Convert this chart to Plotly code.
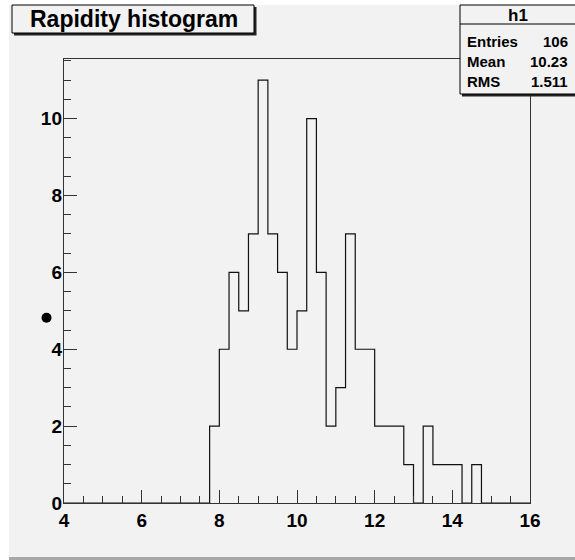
import plotly.graph_objects as go

# ---- data ----
bin_low = 4.0
bin_width = 0.25
counts = [0, 0, 0, 0, 0, 0, 0, 0,      # 4.0 - 6.0
          0, 0, 0, 0, 0, 0, 0, 2,      # 6.0 - 8.0
          4, 6, 5, 7, 11, 7, 6, 4,     # 8.0 - 10.0
          5, 10, 6, 2, 3, 7, 4, 4,     # 10.0 - 12.0
          2, 2, 2, 1, 0, 2, 1, 1,      # 12.0 - 14.0
          1, 0, 1, 0, 0, 0, 0, 0]      # 14.0 - 16.0
marker_x = [3.55]
marker_y = [4.82]
x_ticks = [4, 6, 8, 10, 12, 14, 16]
y_ticks = [0, 2, 4, 6, 8, 10]
title_text = "Rapidity histogram"
stats_name = "h1"
stats_labels = ["Entries", "Mean", "RMS"]
stats_values = ["106", "10.23", "1.511"]

edges = [bin_low + i * bin_width for i in range(len(counts) + 1)]
step_x = edges
step_y = counts + [counts[-1]]

W, H = 575, 560
# frame of the histogram pad, in pixels
FL, FR, FT, FB = 64, 530, 59, 503
XMIN, XMAX = 4.0, 16.0
YMIN, YMAX = 0.0, 11.55

def px(X):
    return X / W

def py(Y):
    return (H - Y) / H

# full-figure overlay axes with the same linear scale as the frame axes
xs = (XMAX - XMIN) / (FR - FL)
ys = (YMAX - YMIN) / (FB - FT)
x2_range = [XMIN - FL * xs, XMAX + (W - FR) * xs]
y2_range = [YMIN - (H - FB) * ys, YMAX + FT * ys]

FONT = "Liberation Sans, Arial, sans-serif"
BG = "#f2f2f2"

fig = go.Figure()
fig.add_trace(go.Scatter(x=step_x, y=step_y, mode="lines", line_shape="hv",
                         line=dict(color="#111111", width=1.2), hoverinfo="skip",
                         showlegend=False, xaxis="x", yaxis="y"))
fig.add_trace(go.Scatter(x=marker_x, y=marker_y, mode="markers",
                         marker=dict(color="black", size=10), hoverinfo="skip",
                         showlegend=False, xaxis="x2", yaxis="y2"))

shapes = []
# canvas gray area and bottom border
shapes.append(dict(type="rect", xref="paper", yref="paper", layer="below",
                   x0=px(9), x1=px(575), y0=py(557), y1=py(5),
                   fillcolor=BG, line=dict(width=0)))
shapes.append(dict(type="rect", xref="paper", yref="paper", layer="below",
                   x0=px(9), x1=px(575), y0=py(560), y1=py(557),
                   fillcolor="#a8a8a8", line=dict(width=0)))
# title box with shadow
shapes.append(dict(type="rect", xref="paper", yref="paper", layer="above",
                   x0=px(14), x1=px(256.5), y0=py(35.5), y1=py(7),
                   fillcolor="#222222", line=dict(width=0)))
shapes.append(dict(type="rect", xref="paper", yref="paper", layer="above",
                   x0=px(12), x1=px(254), y0=py(33), y1=py(5),
                   fillcolor=BG, line=dict(color="black", width=1)))
# stats box with shadow
shapes.append(dict(type="rect", xref="paper", yref="paper", layer="above",
                   x0=px(462), x1=px(578), y0=py(96.5), y1=py(7),
                   fillcolor="#222222", line=dict(width=0)))
shapes.append(dict(type="rect", xref="paper", yref="paper", layer="above",
                   x0=px(460), x1=px(578), y0=py(94), y1=py(5),
                   fillcolor=BG, line=dict(color="black", width=1)))
shapes.append(dict(type="line", xref="paper", yref="paper", layer="above",
                   x0=px(460), x1=px(578), y0=py(24), y1=py(24),
                   line=dict(color="black", width=1)))

annotations = []
annotations.append(dict(xref="paper", yref="paper", x=px(134), y=py(19.5),
                        text="<b>%s</b>" % title_text, showarrow=False,
                        xanchor="center", yanchor="middle",
                        font=dict(family=FONT, size=23, color="black")))
annotations.append(dict(xref="paper", yref="paper", x=px(518), y=py(15),
                        text="<b>%s</b>" % stats_name, showarrow=False,
                        xanchor="center", yanchor="middle",
                        font=dict(family=FONT, size=17, color="black")))
row_y = [41.5, 61.5, 81.5]
for lab, val, yy in zip(stats_labels, stats_values, row_y):
    annotations.append(dict(xref="paper", yref="paper", x=px(465), y=py(yy),
                            text="<b>%s</b>" % lab, showarrow=False,
                            xanchor="left", yanchor="middle",
                            font=dict(family=FONT, size=15, color="black")))
    annotations.append(dict(xref="paper", yref="paper", x=px(570), y=py(yy),
                            text="<b>%s</b>" % val, showarrow=False,
                            xanchor="right", yanchor="middle",
                            font=dict(family=FONT, size=15, color="black")))

axis_common = dict(showgrid=False, zeroline=False, showline=True, mirror=True,
                   linecolor="#333333", linewidth=1.2, ticks="inside",
                   ticklen=13, tickwidth=1, tickcolor="#333333",
                   automargin=False,
                   tickfont=dict(family=FONT, size=19, color="black"))

fig.update_layout(
    width=W, height=H,
    margin=dict(l=0, r=0, t=0, b=0, pad=0, autoexpand=False),
    paper_bgcolor="white", plot_bgcolor="rgba(0,0,0,0)",
    showlegend=False,
    xaxis=dict(range=[XMIN, XMAX], domain=[FL / W, FR / W], anchor="y",
               tickvals=x_ticks,
               ticktext=["<b>%d</b>" % v for v in x_ticks],
               minor=dict(dtick=0.5, tick0=4, ticks="inside", ticklen=7,
                          tickcolor="#333333", tickwidth=1),
               **axis_common),
    yaxis=dict(range=[YMIN, YMAX], domain=[(H - FB) / H, (H - FT) / H], anchor="x",
               tickvals=y_ticks,
               ticktext=["<b>%d</b>" % v for v in y_ticks],
               ticklabelstandoff=-3,
               minor=dict(dtick=0.5, tick0=0, ticks="inside", ticklen=7,
                          tickcolor="#333333", tickwidth=1),
               **axis_common),
    xaxis2=dict(range=x2_range, domain=[0, 1], anchor="y2", visible=False,
                fixedrange=True, automargin=False),
    yaxis2=dict(range=y2_range, domain=[0, 1], anchor="x2", visible=False,
                fixedrange=True, automargin=False),
    shapes=shapes, annotations=annotations,
)

fig.write_html("out.html",
               config={"displayModeBar": False, "staticPlot": True},
               post_script="document.body.style.margin='0px';"
                           "document.body.style.overflow='hidden';")
